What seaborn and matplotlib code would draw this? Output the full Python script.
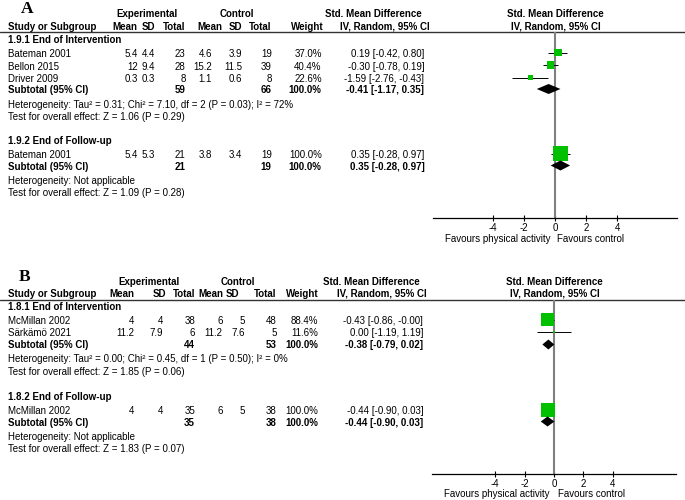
import numpy as np
import pandas as pd
import matplotlib
matplotlib.use("Agg")
import matplotlib.pyplot as plt
import seaborn as sns

# ---------------- data: panel A ----------------
groups_A = ["1.9.1 End of Intervention", "1.9.2 End of Follow-up"]
studies_A = ["Bateman 2001", "Bellon 2015", "Driver 2009", "Bateman 2001"]
study_group_A = [0, 0, 0, 1]
exp_mean_A = [5.4, 12, 0.3, 5.4]
exp_sd_A = [4.4, 9.4, 0.3, 5.3]
exp_n_A = [23, 28, 8, 21]
ctl_mean_A = [4.6, 15.2, 1.1, 3.8]
ctl_sd_A = [3.9, 11.5, 0.6, 3.4]
ctl_n_A = [19, 39, 8, 19]
weight_A = [37.0, 40.4, 22.6, 100.0]
smd_A = [0.19, -0.30, -1.59, 0.35]
lo_A = [-0.42, -0.78, -2.76, -0.28]
hi_A = [0.80, 0.19, -0.43, 0.97]
sub_exp_n_A = [59, 21]
sub_ctl_n_A = [66, 19]
sub_smd_A = [-0.41, 0.35]
sub_lo_A = [-1.17, -0.28]
sub_hi_A = [0.35, 0.97]
het_A = ["Heterogeneity: Tau² = 0.31; Chi² = 7.10, df = 2 (P = 0.03); I² = 72%",
         "Heterogeneity: Not applicable"]
test_A = ["Test for overall effect: Z = 1.06 (P = 0.29)",
          "Test for overall effect: Z = 1.09 (P = 0.28)"]

# ---------------- data: panel B ----------------
groups_B = ["1.8.1 End of Intervention", "1.8.2 End of Follow-up"]
studies_B = ["McMillan 2002", "Särkämö 2021", "McMillan 2002"]
study_group_B = [0, 0, 1]
exp_mean_B = [4, 11.2, 4]
exp_sd_B = [4, 7.9, 4]
exp_n_B = [38, 6, 35]
ctl_mean_B = [6, 11.2, 6]
ctl_sd_B = [5, 7.6, 5]
ctl_n_B = [48, 5, 38]
weight_B = [88.4, 11.6, 100.0]
smd_B = [-0.43, 0.00, -0.44]
lo_B = [-0.86, -1.19, -0.90]
hi_B = [-0.0, 1.19, 0.03]
sub_exp_n_B = [44, 35]
sub_ctl_n_B = [53, 38]
sub_smd_B = [-0.38, -0.44]
sub_lo_B = [-0.79, -0.90]
sub_hi_B = [0.02, 0.03]
het_B = ["Heterogeneity: Tau² = 0.00; Chi² = 0.45, df = 1 (P = 0.50); I² = 0%",
         "Heterogeneity: Not applicable"]
test_B = ["Test for overall effect: Z = 1.85 (P = 0.06)",
          "Test for overall effect: Z = 1.83 (P = 0.07)"]

x_ticks = [-4, -2, 0, 2, 4]
favours_left = "Favours physical activity"
favours_right = "Favours control"

# ---------------- style ----------------
sns.set_theme(style="white")
plt.rcParams['font.family'] = ['Liberation Sans', 'DejaVu Sans']

W, H = 685, 500
fig = plt.figure(figsize=(W / 100, H / 100), dpi=100)
bg = fig.add_axes([0, 0, 1, 1])
bg.set_xlim(0, W)
bg.set_ylim(H, 0)
bg.axis('off')

FS = 7.0
TXT = '#000000'
GREEN = '#00c000'


def fmt(v):
    return f"{v:g}"


def put(x, y, s, ha='left', bold=False):
    bg.text(x, y, s, ha=ha, va='center', fontsize=FS,
            fontweight='bold' if bold else 'normal', color=TXT)


def ci(s, l, h):
    return f"{s:.2f} [{l:.2f}, {h:.2f}]"


def panel(L, D):
    # letter
    bg.text(L['letter_x'], L['letter_base'], L['letter'], ha='center', va='baseline',
            fontsize=12.5, fontweight='bold', family='Liberation Serif', color='black')
    y1, y2 = L['hdr1'], L['hdr2']
    put(L['exp_c'], y1, "Experimental", ha='center', bold=True)
    put(L['ctl_c'], y1, "Control", ha='center', bold=True)
    put(L['smd_h1'], y1, "Std. Mean Difference", ha='right', bold=True)
    put(L['smd_h2'], y2, "IV, Random, 95% CI", ha='right', bold=True)
    put(L['plot_c'], y1, "Std. Mean Difference", ha='center', bold=True)
    put(L['plot_c'], y2, "IV, Random, 95% CI", ha='center', bold=True)
    put(8, y2, "Study or Subgroup", bold=True)
    for name, x in zip(["Mean", "SD", "Total", "Mean", "SD", "Total", "Weight"], L['hcols']):
        put(x, y2, name, ha='right', bold=True)
    bg.plot([0, W], [L['line'], L['line']], color='#333333', lw=1.0)

    cols = L['cols']
    for g in range(2):
        put(8, L['grp'][g], D['groups'][g], bold=True)
    for i, st in enumerate(D['studies']):
        y = L['rows'][i]
        put(8, y, st)
        vals = [fmt(D['em'][i]), fmt(D['esd'][i]), str(D['en'][i]),
                fmt(D['cm'][i]), fmt(D['csd'][i]), str(D['cn'][i]),
                f"{D['w'][i]:.1f}%"]
        for v, x in zip(vals, cols):
            put(x, y, v, ha='right')
        put(L['smd_r'], y, ci(D['smd'][i], D['lo'][i], D['hi'][i]), ha='right')
    for g in range(2):
        y = L['sub'][g]
        put(8, y, "Subtotal (95% CI)", bold=True)
        put(cols[2], y, str(D['sen'][g]), ha='right', bold=True)
        put(cols[5], y, str(D['scn'][g]), ha='right', bold=True)
        put(cols[6], y, "100.0%", ha='right', bold=True)
        put(L['smd_r'], y, ci(D['ss'][g], D['sl'][g], D['sh'][g]), ha='right', bold=True)
        put(8, L['het'][g], D['het'][g])
        put(8, L['test'][g], D['test'][g])

    # forest axes
    x0, x1 = L['ax_x']
    yt, ya = L['line'], L['axis_y']
    ax = fig.add_axes([x0 / W, 1 - ya / H, (x1 - x0) / W, (ya - yt) / H])
    ax.patch.set_alpha(0)
    df = pd.DataFrame({'smd': D['smd'], 'lo': D['lo'], 'hi': D['hi'],
                       'w': D['w'], 'row': [r - 1.5 for r in L['rows']]})
    ax.axvline(0, color='#808080', lw=1.5, zorder=1)
    ax.hlines(df['row'], df['lo'], df['hi'], color='black', lw=0.7, zorder=2)
    sizes = {w: (L['sq'] * (w / 100) ** 0.75 * 0.72) ** 2 for w in df['w']}
    sns.scatterplot(data=df, x='smd', y='row', size='w', sizes=sizes, marker='s',
                    color=GREEN, linewidth=0, legend=False, ax=ax, zorder=3)
    for g in range(2):
        yy = L['sub'][g] - 1
        ax.fill([D['sl'][g], D['ss'][g], D['sh'][g], D['ss'][g]],
                [yy, yy - 5, yy, yy + 5], color='black', lw=0, zorder=4)
    ax.set_xlim(L['xlim'])
    ax.set_ylim(ya, yt)
    for sp in ['top', 'left', 'right']:
        ax.spines[sp].set_visible(False)
    ax.spines['bottom'].set_color('black')
    ax.spines['bottom'].set_linewidth(0.9)
    ax.set_xticks(x_ticks)
    ax.set_xticklabels([str(t) for t in x_ticks])
    ax.tick_params(axis='x', direction='inout', length=5, width=0.8, labelsize=FS,
                   pad=1, colors='black', bottom=True)
    ax.set_yticks([])
    ax.set_xlabel('')
    ax.set_ylabel('')
    ax.grid(False)
    put(L['fav_l'], L['fav_y'], favours_left, ha='right')
    put(L['fav_r'], L['fav_y'], favours_right, ha='left')


LA = dict(letter='A', letter_x=27, letter_base=12.8, hdr1=14.3, hdr2=26.7, line=32.3,
          exp_c=147.5, ctl_c=236.5, smd_h1=422, smd_h2=430, plot_c=555.5,
          hcols=[137.7, 155, 185.7, 222.7, 242.3, 271.7, 323.3],
          cols=[137.7, 155, 185.7, 212, 242.3, 271.7, 321.7], smd_r=424.3,
          grp=[40, 141.5], rows=[54, 66.5, 79, 90.5 - 0.5, 155.0][:4] if False else [54, 66.5, 79, 155],
          sub=[90, 166.5],
          het=[104.5, 181], test=[116.7, 193.3],
          ax_x=(433, 677), axis_y=218.3, xlim=(-7.82, 7.82), sq=15,
          fav_l=550.5, fav_r=557, fav_y=239)
DA = dict(groups=groups_A, studies=studies_A, em=exp_mean_A, esd=exp_sd_A, en=exp_n_A,
          cm=ctl_mean_A, csd=ctl_sd_A, cn=ctl_n_A, w=weight_A, smd=smd_A, lo=lo_A,
          hi=hi_A, sen=sub_exp_n_A, scn=sub_ctl_n_A, ss=sub_smd_A, sl=sub_lo_A,
          sh=sub_hi_A, het=het_A, test=test_A)

LB = dict(letter='B', letter_x=24.5, letter_base=280.7, hdr1=281.7, hdr2=294, line=299.5,
          exp_c=149, ctl_c=238, smd_h1=419.3, smd_h2=426.7, plot_c=554.5,
          hcols=[134.3, 166, 195, 223.3, 239, 276.7, 318.3],
          cols=[134.5, 163, 195, 222.7, 245, 276.7, 318.3], smd_r=423.3,
          grp=[307, 396.5], rows=[321, 333.5, 411], sub=[345.5, 422.5],
          het=[359.5, 436.5], test=[372, 449],
          ax_x=(432, 676), axis_y=474, xlim=(-8.3, 8.3), sq=14,
          fav_l=550, fav_r=558, fav_y=494.3)
DB = dict(groups=groups_B, studies=studies_B, em=exp_mean_B, esd=exp_sd_B, en=exp_n_B,
          cm=ctl_mean_B, csd=ctl_sd_B, cn=ctl_n_B, w=weight_B, smd=smd_B, lo=lo_B,
          hi=hi_B, sen=sub_exp_n_B, scn=sub_ctl_n_B, ss=sub_smd_B, sl=sub_lo_B,
          sh=sub_hi_B, het=het_B, test=test_B)

panel(LA, DA)
panel(LB, DB)

fig.savefig("out.png", dpi=100, facecolor='white')
